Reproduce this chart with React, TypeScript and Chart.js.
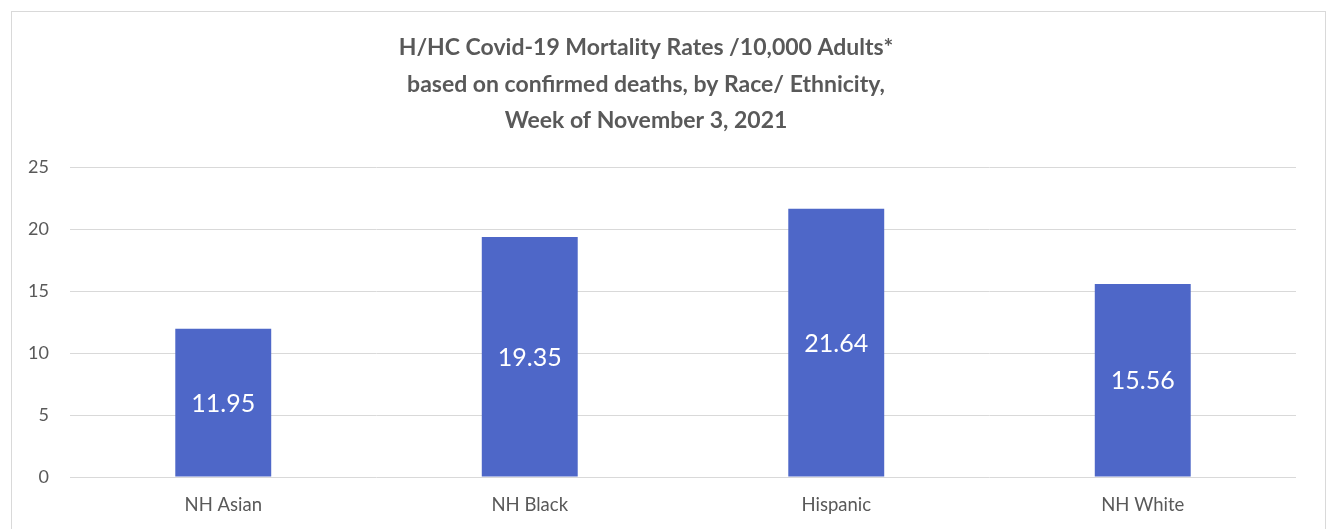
import React, { useEffect, useRef } from "react";
import { Chart, registerables } from "chart.js";

Chart.register(...registerables);

const categories = ["NH Asian", "NH Black", "Hispanic", "NH White"];
const rates = [11.95, 19.35, 21.64, 15.56];
const titleLines = [
  "H/HC Covid-19 Mortality Rates /10,000 Adults*",
  "based on confirmed deaths, by Race/ Ethnicity,",
  "Week of November 3, 2021",
];
const yTicks = [0, 5, 10, 15, 20, 25];

const FONT = "Lato, 'Open Sans', sans-serif";
const TEXT_GREY = "#595959";
const BAR_BLUE = "#4E67C8";

const titlePlugin = {
  id: "customTitle",
  afterDraw(chart: any) {
    const ctx = chart.ctx;
    ctx.save();
    ctx.fillStyle = TEXT_GREY;
    ctx.font = `bold 23px ${FONT}`;
    ctx.textAlign = "center";
    ctx.textBaseline = "middle";
    titleLines.forEach((line, i) => {
      ctx.fillText(line, 634, 36 + i * 36.5);
    });
    ctx.restore();
  },
};

const valueLabelPlugin = {
  id: "valueLabels",
  afterDatasetsDraw(chart: any) {
    const ctx = chart.ctx;
    ctx.save();
    ctx.fillStyle = "#ffffff";
    ctx.font = `25px ${FONT}`;
    ctx.textAlign = "center";
    ctx.textBaseline = "middle";
    const meta = chart.getDatasetMeta(0);
    meta.data.forEach((el: any, i: number) => {
      const v = chart.data.datasets[0].data[i] as number;
      ctx.fillText(v.toFixed(2), el.x, (el.y + el.base) / 2 + 1);
    });
    ctx.restore();
  },
};

export default function App() {
  const ref = useRef<HTMLCanvasElement>(null);
  useEffect(() => {
    if (!ref.current) return;
    const chart = new Chart(ref.current, {
      type: "bar",
      data: {
        labels: categories,
        datasets: [
          {
            data: rates,
            backgroundColor: BAR_BLUE,
            borderWidth: 0,
            barPercentage: 0.313,
            categoryPercentage: 1,
          },
        ],
      },
      options: {
        responsive: false,
        animation: false,
        layout: { padding: { top: 155, right: 29, left: 0, bottom: 0 } },
        plugins: {
          legend: { display: false },
          title: { display: false },
          tooltip: { enabled: false },
        },
        scales: {
          x: {
            grid: { display: false, drawTicks: false },
            border: { display: false },
            ticks: {
              color: TEXT_GREY,
              font: { family: FONT, size: 18.5 },
              padding: 17,
            },
            afterFit(s: any) {
              s.height = 52;
            },
          },
          y: {
            min: 0,
            max: 25,
            afterBuildTicks(s: any) {
              s.ticks = yTicks.map((v) => ({ value: v }));
            },
            grid: { color: "#d9d9d9", lineWidth: 1, drawTicks: false },
            border: { display: false },
            ticks: {
              color: TEXT_GREY,
              font: { family: FONT, size: 18 },
              padding: 21,
            },
            afterFit(s: any) {
              s.width = 58;
            },
          },
        },
      },
      plugins: [titlePlugin, valueLabelPlugin],
    });
    return () => chart.destroy();
  }, []);

  return (
    <div
      style={{
        position: "fixed",
        left: 0,
        top: 0,
        width: 1327,
        height: 529,
        overflow: "hidden",
        background: "#ffffff",
      }}
    >
      <div
        style={{
          position: "absolute",
          left: 11,
          top: 11,
          width: 1315,
          height: 530,
          border: "1px solid #d9d9d9",
          boxSizing: "border-box",
        }}
      >
        <canvas ref={ref} width={1313} height={517} style={{ display: "block" }} />
      </div>
    </div>
  );
}
